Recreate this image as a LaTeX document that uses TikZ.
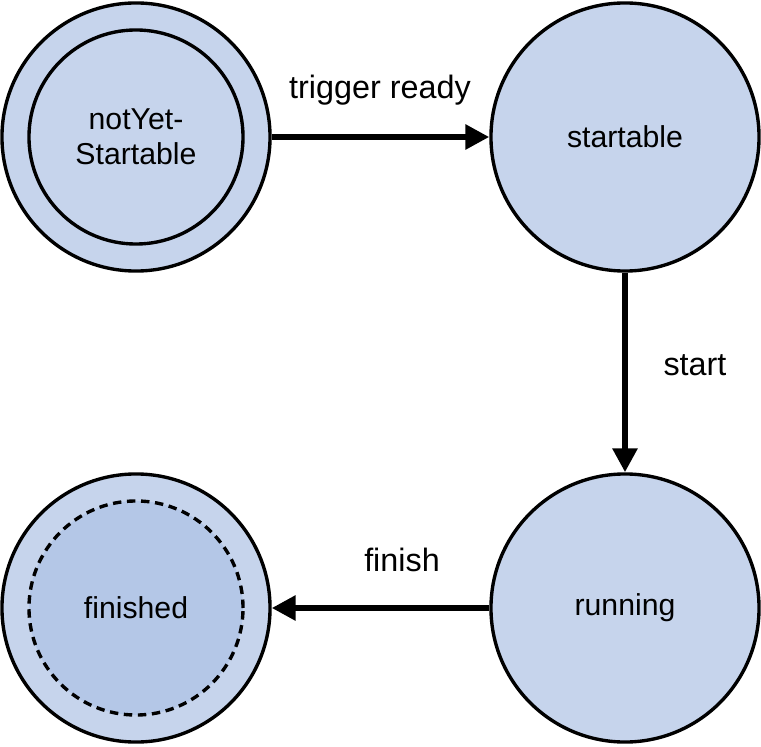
\documentclass[tikz,border=0pt]{standalone}
\usepackage{fontspec}
\setmainfont{Liberation Sans}
\definecolor{statefill}{HTML}{C6D4EC}
\definecolor{donefill}{HTML}{B4C7E7}
\usetikzlibrary{arrows.meta}
\begin{document}
\begin{tikzpicture}[x=0.025cm, y=-0.025cm,
  state/.style={circle, draw, line width=2.4pt, fill=statefill, minimum size=6.7cm, font=\fontsize{21.5}{25}\selectfont, align=center},
  inner/.style={circle, draw, line width=2.4pt, minimum size=5.35cm, font=\fontsize{21.5}{25}\selectfont, align=center},
  trans/.style={line width=4.2pt, -{Triangle[length=17pt, width=17pt]}},
  lbl/.style={font=\fontsize{23}{27}\selectfont}]
\useasboundingbox (0,0) rectangle (761,747);

\node [state] (s1) at (136,137) {};
\node [inner] (s1i) at (136,137) {notYet-\\Startable};
\node [state] (s2) at (625,137) {startable};
\node [state] (s3) at (625,608) {running};
\node [state] (s4) at (136,608) {};
\node [inner, dash pattern=on 6pt off 4pt, fill=donefill] (s4i) at (136,608) {finished};

\draw [trans] (s1) -- (s2);
\draw [trans] (s2) -- (s3);
\draw [trans] (s3) -- (s4);

\node [lbl] (l1) at (380,90) {trigger ready};
\node [lbl] (l2) at (695,365) {start};
\node [lbl] (l3) at (402,560) {finish};
\end{tikzpicture}
\end{document}
